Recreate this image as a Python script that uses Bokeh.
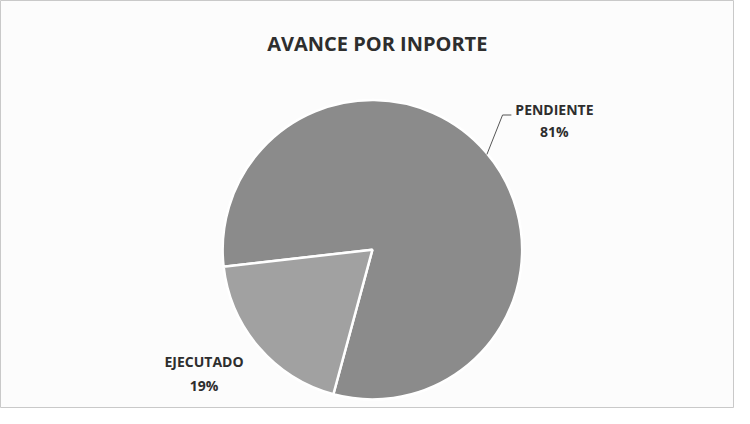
import math
from bokeh.plotting import figure
from bokeh.models import Range1d
from bokeh.core.properties import value
from bokeh.embed import file_html
from bokeh.resources import INLINE

# ---- data ----
title_text = "AVANCE POR INPORTE"
categories = ["PENDIENTE", "EJECUTADO"]
percents = [81, 19]
colors = ["#8b8b8b", "#a1a1a1"]

# ---- layout (style) ----
W, H = 734, 408
cx, cy, r = 380, 424 - 259, 153
start_offset = 186.5 + 19 * 3.6  # degrees, anticlockwise start for first slice

p = figure(width=W, height=H, output_backend="svg", toolbar_location=None,
           x_range=Range1d(0, 750), y_range=Range1d(0, 424),
           min_border=0, background_fill_color="#fcfcfc",
           border_fill_color="#fcfcfc")
p.axis.visible = False
p.grid.visible = False
p.outline_line_color = "#c9c9c9"
p.outline_line_width = 1

total = sum(percents)
starts, ends = [], []
a = start_offset
for v in percents:
    starts.append(math.radians(a))
    a += v / total * 360
    ends.append(math.radians(a))

p.wedge(x=[cx] * len(percents), y=[cy] * len(percents), radius=r,
        start_angle=starts, end_angle=ends,
        direction="anticlock", fill_color=colors, line_color="white",
        line_width=2.5)

font = value("Open Sans")
p.text(x=[385], y=[424 - 45], text=[title_text], text_font=font,
       text_font_style="bold", text_font_size="20px", text_color="#2e2e2e",
       text_align="center", text_baseline="middle")

lab_x = [566, 208]
lab_y1 = [424 - 113, 424 - 375]
lab_y2 = [424 - 136, 424 - 400]
p.text(x=lab_x, y=lab_y1, text=categories, text_font=font,
       text_font_style="bold", text_font_size="14px", text_color="#2e2e2e",
       text_align="center", text_baseline="middle")
p.text(x=lab_x, y=lab_y2, text=[f"{v}%" for v in percents], text_font=font,
       text_font_style="bold", text_font_size="14px", text_color="#2e2e2e",
       text_align="center", text_baseline="middle")

# leader line for PENDIENTE
p.line(x=[522, 513, 497], y=[424 - 119, 424 - 119, 424 - 160],
       line_color="#555555", line_width=1)

open("out.html", "w").write(file_html(p, INLINE))
